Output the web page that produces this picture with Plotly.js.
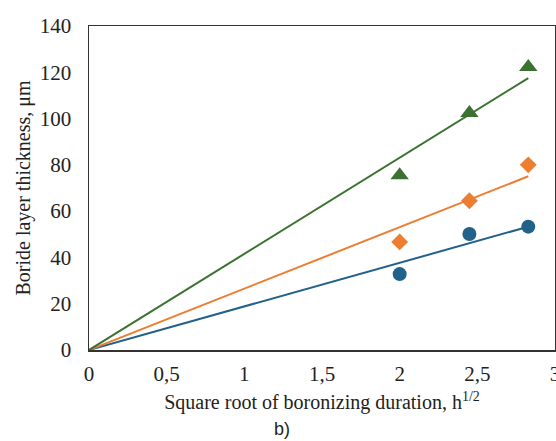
<!DOCTYPE html>
<html><head><meta charset="utf-8">
<script src="https://cdn.plot.ly/plotly-3.0.1.min.js"></script>
<style>html,body{margin:0;padding:0;background:#fff}#chart{width:556px;height:441px}</style>
</head><body><div id="chart"></div>
<script>
const xVals = [2, 2.449, 2.828];
const blueY = [32.8, 50.1, 53.3];
const orangeY = [46.7, 64.5, 80.0];
const greenY = [75.5, 102.4, 122.3];
const xTickVals = [0, 0.5, 1, 1.5, 2, 2.5, 3];
const xTickText = ['0', '0,5', '1', '1,5', '2', '2,5', '3'];
const yTickVals = [0, 20, 40, 60, 80, 100, 120, 140];

function slopeThroughOrigin(xs, ys) {
  let sxy = 0, sxx = 0;
  for (let i = 0; i < xs.length; i++) { sxy += xs[i] * ys[i]; sxx += xs[i] * xs[i]; }
  return sxy / sxx;
}
const xEnd = xVals[xVals.length - 1];
const series = [
  {y: blueY, color: '#22618a', symbol: 'circle', size: 14},
  {y: orangeY, color: '#ed7d31', symbol: 'diamond', size: 13},
  {y: greenY, color: '#3b7232', symbol: 'triangle-up', size: 16}
];
const traces = [];
series.forEach(s => {
  const k = slopeThroughOrigin(xVals, s.y);
  traces.push({x: [0, xEnd], y: [0, k * xEnd], mode: 'lines', line: {color: s.color, width: 2}, hoverinfo: 'skip'});
});
series.forEach(s => {
  traces.push({x: xVals, y: s.y, mode: 'markers', marker: {color: s.color, symbol: s.symbol, size: s.size}});
});
const tickFont = {family: '"Liberation Serif", "Times New Roman", serif', color: '#222', size: 21};
const titleFont = {family: '"Liberation Serif", "Times New Roman", serif', color: '#222', size: 20};
const layout = {
  width: 556, height: 441,
  margin: {l: 89, r: 1, t: 26, b: 91},
  paper_bgcolor: '#fff', plot_bgcolor: '#fff',
  showlegend: false,
  font: tickFont,
  xaxis: {
    range: [0, 3], tickvals: xTickVals, ticktext: xTickText,
    showgrid: false, zeroline: false, showline: true, mirror: true,
    linecolor: '#333', linewidth: 1.5,
    ticks: 'outside', ticklen: 4, tickcolor: 'rgba(0,0,0,0)',
    ticklabeloverflow: 'allow',
    tickfont: tickFont,
    title: {text: 'Square root of boronizing duration, h<sup>1/2</sup>', font: titleFont, standoff: 10}
  },
  yaxis: {
    range: [0, 140], tickvals: yTickVals,
    showgrid: false, zeroline: false, showline: true, mirror: true,
    linecolor: '#333', linewidth: 1.5,
    ticks: 'outside', ticklen: 12, tickcolor: 'rgba(0,0,0,0)',
    tickfont: tickFont,
    title: {text: 'Boride layer thickness, μm', font: titleFont, standoff: 4}
  },
  annotations: [{
    text: 'b)', xref: 'paper', yref: 'paper', x: 0.415, y: -0.245,
    xanchor: 'center', yanchor: 'middle', showarrow: false,
    font: {family: '"Liberation Sans Narrow", "Liberation Sans", Arial, sans-serif', size: 18, color: '#222'}
  }]
};
Plotly.newPlot('chart', traces, layout, {displayModeBar: false, staticPlot: true});
</script></body></html>
